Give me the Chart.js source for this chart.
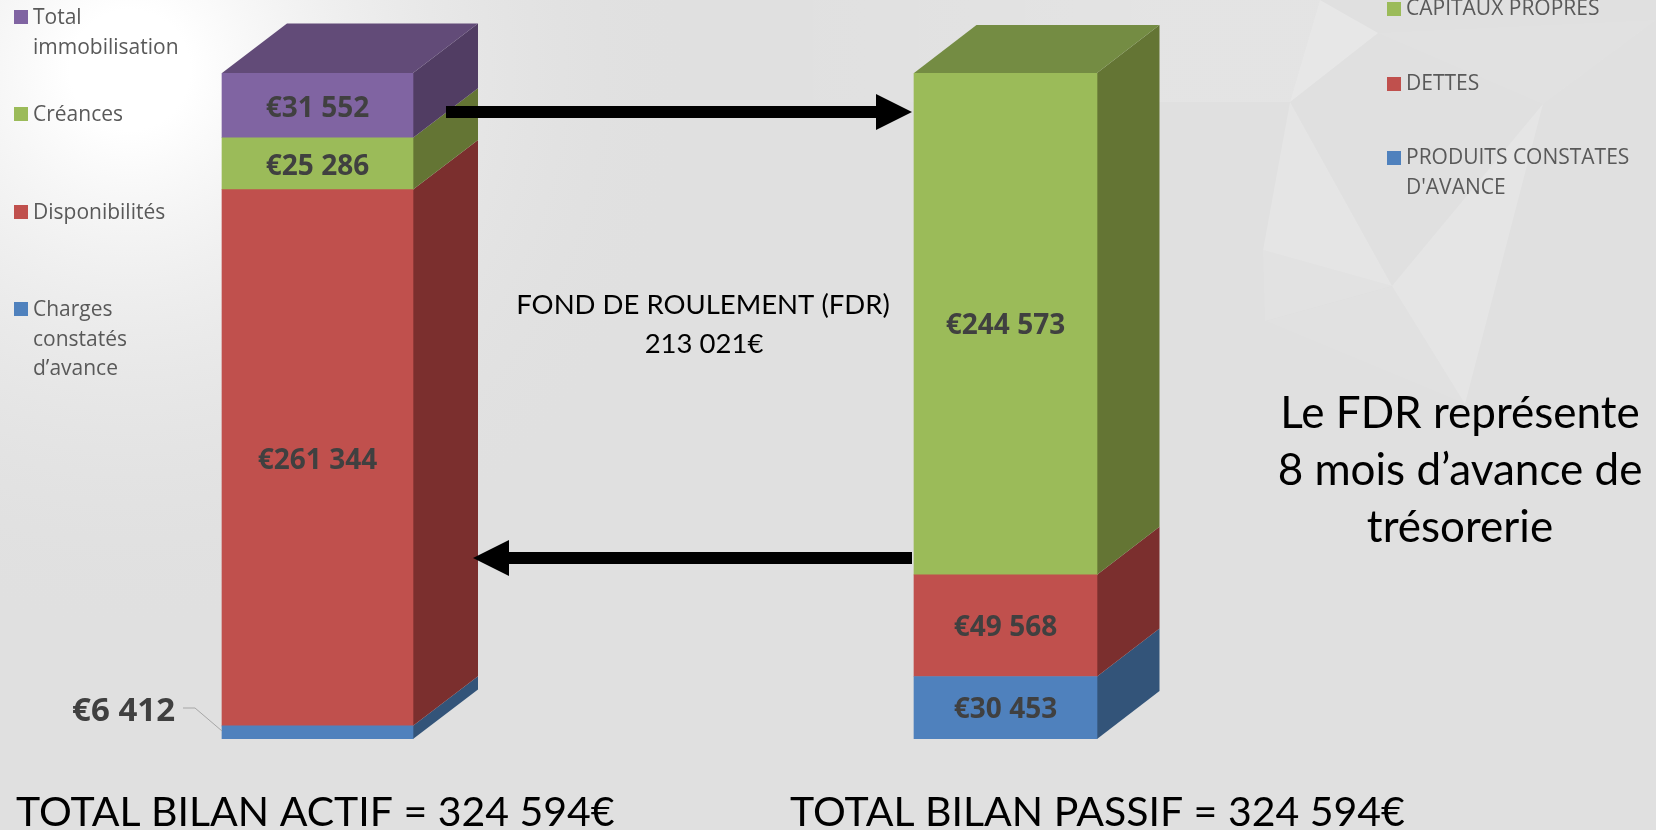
<!DOCTYPE html>
<html>
<head>
<meta charset="utf-8">
<title>Bilan actif / passif</title>
<script src="https://cdn.jsdelivr.net/npm/chart.js@4"></script>
<style>
    html, body { margin: 0; padding: 0; background: #e0e0e0; overflow: hidden; }
    canvas { display: block; }
</style>
</head>
<body>
<canvas id="bilanChart" width="1656" height="830"></canvas>
<script>
// Données
const colonnes = ['Actif', '', 'Passif'];
const chargesConstatees = [6412, null, null];
const disponibilites = [261344, null, null];
const creances = [25286, null, null];
const immobilisation = [31552, null, null];
const produitsConstates = [null, null, 30453];
const dettes = [null, null, 49568];
const capitauxPropres = [null, null, 244573];

const legendeActif = [
    { couleur: '#8064a2', lignes: ['Total', 'immobilisation'] },
    { couleur: '#9bbb59', lignes: ['Créances'] },
    { couleur: '#c0504d', lignes: ['Disponibilités'] },
    { couleur: '#4f81bd', lignes: ['Charges', 'constatés', 'd’avance'] }
];
const legendePassif = [
    { couleur: '#9bbb59', lignes: ['CAPITAUX PROPRES'] },
    { couleur: '#c0504d', lignes: ['DETTES'] },
    { couleur: '#4f81bd', lignes: ['PRODUITS CONSTATES', 'D\'AVANCE'] }
];

const NOIR = '#000000';
const GRIS = '#595959';

function euro(v) {
    return '€' + String(v).replace(/\B(?=(\d{3})+$)/g, ' ');
}

function poly(ctx, pts, couleur) {
    ctx.fillStyle = couleur;
    ctx.beginPath();
    pts.forEach(function (p, i) {
        if (i === 0) ctx.moveTo(p[0], p[1]); else ctx.lineTo(p[0], p[1]);
    });
    ctx.closePath();
    ctx.fill();
}

function texte(ctx, str, x, y, font, couleur, align) {
    ctx.font = font;
    ctx.fillStyle = couleur;
    ctx.textAlign = align || 'left';
    ctx.textBaseline = 'alphabetic';
    ctx.fillText(str, x, y);
}

function dessineLegende(ctx, items, xCarre, xTexte, ys, decalage) {
    items.forEach(function (item, i) {
        poly(ctx, [[xCarre, ys[i]], [xCarre + 14, ys[i]], [xCarre + 14, ys[i] + 14], [xCarre, ys[i] + 14]], item.couleur);
        item.lignes.forEach(function (ligne, j) {
            texte(ctx, ligne, xTexte, ys[i] + decalage + j * 29.5, '21px "Open Sans"', GRIS);
        });
    });
}

// Fond gris avec le halo clair et les triangles
const fondPlugin = {
    id: 'fond',
    beforeDraw: function (chart) {
        const ctx = chart.ctx;
        ctx.save();
        ctx.fillStyle = '#e0e0e0';
        ctx.fillRect(0, 0, chart.width, chart.height);
        const halo = ctx.createRadialGradient(130, 70, 60, 130, 70, 560);
        halo.addColorStop(0, '#ffffff');
        halo.addColorStop(1, 'rgba(224,224,224,0)');
        ctx.fillStyle = halo;
        ctx.fillRect(0, 0, chart.width, chart.height);
        const bande = ctx.createLinearGradient(760, 0, 1160, 0);
        bande.addColorStop(0, 'rgba(255,255,255,0)');
        bande.addColorStop(1, 'rgba(255,255,255,0.12)');
        poly(ctx, [[760, 0], [1320, 0], [1290, 102], [760, 102]], bande);
        poly(ctx, [[1320, 0], [1378, 33], [1290, 102]], 'rgba(255,255,255,0.24)');
        poly(ctx, [[1290, 102], [1263, 250], [1392, 286]], 'rgba(255,255,255,0.17)');
        poly(ctx, [[1392, 286], [1543, 104], [1465, 404]], 'rgba(255,255,255,0.17)');
        poly(ctx, [[1263, 250], [1392, 286], [1265, 321]], 'rgba(255,255,255,0.08)');
        poly(ctx, [[1392, 286], [1465, 404], [1265, 321]], 'rgba(255,255,255,0.03)');
        poly(ctx, [[1378, 33], [1656, 20], [1543, 104]], 'rgba(255,255,255,0.05)');
        ctx.restore();
    }
};

// Faces du dessus et de côté pour l'effet 3D, à partir des barres
const faces3dPlugin = {
    id: 'faces3d',
    beforeDatasetsDraw: function (chart) {
        const ctx = chart.ctx;
        chart.data.datasets.forEach(function (ds, i) {
            chart.getDatasetMeta(i).data.forEach(function (bar, j) {
                if (ds.data[j] === null) return;
                const d = bar.getProps(['x', 'y', 'base', 'width'], false);
                const g = d.x - d.width / 2;
                const r = d.x + d.width / 2;
                poly(ctx, [[r, d.y], [r + ds.profX, d.y - ds.profY], [r + ds.profX, d.base - ds.profY], [r, d.base]], ds.couleurCote);
                if (ds.couleurDessus) {
                    poly(ctx, [[g, d.y], [g + ds.profX, d.y - ds.profY], [r + ds.profX, d.y - ds.profY], [r, d.y]], ds.couleurDessus);
                }
            });
        });
    }
};

// Valeurs sur les barres, flèches, légendes et textes
const textesPlugin = {
    id: 'textes',
    afterDraw: function (chart) {
        const ctx = chart.ctx;
        ctx.save();
        chart.data.datasets.forEach(function (ds, i) {
            chart.getDatasetMeta(i).data.forEach(function (bar, j) {
                const v = ds.data[j];
                if (v === null) return;
                if (ds.etiquetteExterne) {
                    texte(ctx, euro(v), 175, 721, 'bold 33px "Open Sans"', '#404040', 'right');
                    ctx.strokeStyle = '#a6a6a6';
                    ctx.lineWidth = 1;
                    ctx.beginPath();
                    ctx.moveTo(183, 708);
                    ctx.lineTo(195, 708);
                    ctx.lineTo(222, 731);
                    ctx.stroke();
                } else {
                    const d = bar.getProps(['x', 'y', 'base'], false);
                    // la colonne de gauche est un peu plus basse dans l'original
                    const decal = ds.profX === 65 ? 11.5 : 10;
                    texte(ctx, euro(v), d.x, (d.y + d.base) / 2 + decal, 'bold 28px "Open Sans"', '#404040', 'center');
                }
            });
        });

        // flèche vers le passif
        poly(ctx, [[446, 106], [876, 106], [876, 94], [912, 112], [876, 130], [876, 118], [446, 118]], NOIR);
        // flèche vers l'actif
        poly(ctx, [[912, 552], [509, 552], [509, 540], [473, 558], [509, 576], [509, 564], [912, 564]], NOIR);

        dessineLegende(ctx, legendeActif, 14, 33, [10, 107, 205, 302], 14);
        dessineLegende(ctx, legendePassif, 1387, 1406, [2, 77, 151], 13);

        texte(ctx, 'FOND DE ROULEMENT (FDR)', 703, 314, '27.5px Lato', NOIR, 'center');
        texte(ctx, '213 021€', 704, 353, '27.5px Lato', NOIR, 'center');

        texte(ctx, 'Le FDR représente', 1460, 428, '44px Lato', NOIR, 'center');
        texte(ctx, '8 mois d’avance de', 1460, 485, '44px Lato', NOIR, 'center');
        texte(ctx, 'trésorerie', 1460, 542, '44px Lato', NOIR, 'center');

        texte(ctx, 'TOTAL BILAN ACTIF = 324 594€', 16, 826, '41px Lato', NOIR);
        texte(ctx, 'TOTAL BILAN PASSIF = 324 594€', 790, 826, '41px Lato', NOIR);
        ctx.restore();
    }
};

const ctx1 = document.getElementById('bilanChart').getContext('2d');
new Chart(ctx1, {
    type: 'bar',
    data: {
        labels: colonnes,
        datasets: [
            { label: 'Charges constatés d’avance', data: chargesConstatees, backgroundColor: '#4f81bd', barThickness: 191, profX: 65, profY: 49.5, couleurCote: '#335479', etiquetteExterne: true },
            { label: 'Disponibilités', data: disponibilites, backgroundColor: '#c0504d', barThickness: 191, profX: 65, profY: 49.5, couleurCote: '#7b2f2e' },
            { label: 'Créances', data: creances, backgroundColor: '#9bbb59', barThickness: 191, profX: 65, profY: 49.5, couleurCote: '#647534' },
            { label: 'Total immobilisation', data: immobilisation, backgroundColor: '#8064a2', barThickness: 191, profX: 65, profY: 49.5, couleurCote: '#513d63', couleurDessus: '#624b78' },
            { label: 'Produits constatés d\'avance', data: produitsConstates, backgroundColor: '#4f81bd', barThickness: 183, profX: 62.5, profY: 48, couleurCote: '#335479' },
            { label: 'Dettes', data: dettes, backgroundColor: '#c0504d', barThickness: 183, profX: 62.5, profY: 48, couleurCote: '#7b2f2e' },
            { label: 'Capitaux propres', data: capitauxPropres, backgroundColor: '#9bbb59', barThickness: 183, profX: 62.5, profY: 48, couleurCote: '#647534', couleurDessus: '#748c43' }
        ]
    },
    options: {
        responsive: false,
        animation: false,
        layout: { padding: { left: 145.5, right: 478.5, top: 73, bottom: 91 } },
        plugins: {
            legend: { display: false },
            tooltip: { enabled: false }
        },
        scales: {
            x: { stacked: true, display: false },
            y: { stacked: true, display: false, min: 0, max: 324594 }
        }
    },
    plugins: [fondPlugin, faces3dPlugin, textesPlugin]
});
</script>
</body>
</html>
